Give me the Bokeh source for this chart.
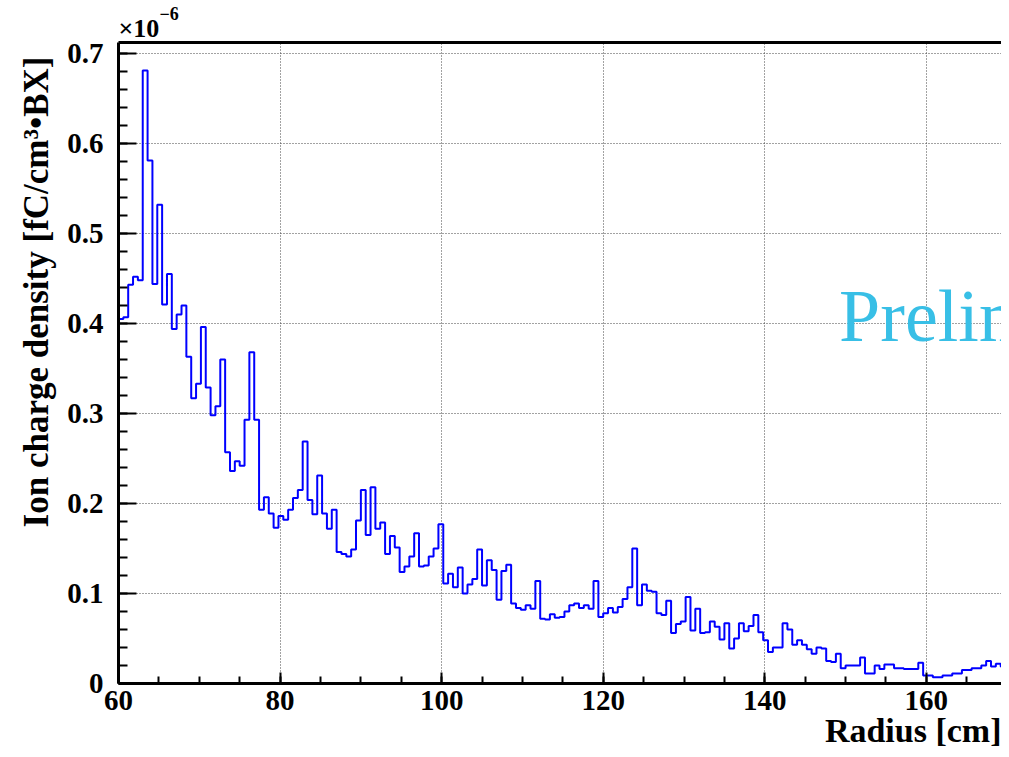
import numpy as np
from bokeh.plotting import figure
from bokeh.models import (Range1d, SingleIntervalTicker, FixedTicker,
                          CustomJSTickFormatter, Label, LinearAxis, Title)
from bokeh.embed import file_html
from bokeh.resources import INLINE

# ---------------- data ----------------
bin_low = 60.0      # cm, lower edge of first bin
bin_width = 0.6     # cm
# ion charge density per bin, in units of 1e-6 fC/cm^3/BX
ion_density = [
    0.405, 0.407, 0.443, 0.452, 0.448, 0.681, 0.581, 0.444, 0.532, 0.421,
    0.455, 0.394, 0.410, 0.420, 0.363, 0.317, 0.333, 0.396, 0.329, 0.298,
    0.308, 0.360, 0.257, 0.236, 0.247, 0.242, 0.293, 0.368, 0.293, 0.193,
    0.207, 0.189, 0.173, 0.186, 0.182, 0.193, 0.206, 0.215, 0.269, 0.204,
    0.188, 0.231, 0.189, 0.172, 0.193, 0.146, 0.144, 0.141, 0.149, 0.181,
    0.215, 0.165, 0.218, 0.172, 0.179, 0.144, 0.164, 0.151, 0.124, 0.130,
    0.141, 0.167, 0.130, 0.131, 0.141, 0.150, 0.177, 0.111, 0.122, 0.107,
    0.129, 0.100, 0.110, 0.116, 0.149, 0.109, 0.137, 0.126, 0.093, 0.125,
    0.132, 0.089, 0.084, 0.082, 0.087, 0.083, 0.114, 0.072, 0.071, 0.077,
    0.073, 0.074, 0.080, 0.087, 0.089, 0.084, 0.087, 0.083, 0.114, 0.074,
    0.078, 0.084, 0.079, 0.085, 0.094, 0.107, 0.150, 0.087, 0.110, 0.103,
    0.102, 0.078, 0.076, 0.092, 0.056, 0.066, 0.069, 0.096, 0.059, 0.083,
    0.056, 0.057, 0.069, 0.063, 0.049, 0.067, 0.039, 0.050, 0.067, 0.058,
    0.064, 0.076, 0.057, 0.048, 0.035, 0.040, 0.040, 0.067, 0.060, 0.043,
    0.048, 0.043, 0.038, 0.033, 0.040, 0.039, 0.025, 0.024, 0.033, 0.017,
    0.020, 0.020, 0.020, 0.029, 0.011, 0.011, 0.020, 0.016, 0.021, 0.021,
    0.017, 0.017, 0.016, 0.016, 0.016, 0.023, 0.009, 0.009, 0.007, 0.007,
    0.009, 0.009, 0.011, 0.011, 0.015, 0.015, 0.017, 0.017, 0.020, 0.025,
    0.019, 0.022, 0.019, 0.019,
]
x_title = "Radius [cm]"
y_title = "Ion charge density [fC/cm\u00b3\u2022BX]"
y_exponent_base = "\u00d710"
y_exponent = "\u22126"
watermark = "Preliminary"

# ---------------- histogram outline ----------------
n = len(ion_density)
edges = bin_low + bin_width * np.arange(n + 1)
xs = [edges[0]]
ys = [0.0]
for i, v in enumerate(ion_density):
    xs += [edges[i], edges[i + 1]]
    ys += [v, v]

FONT = "Liberation Serif"

p = figure(width=1001, height=749,
           x_range=Range1d(60, 169.3), y_range=Range1d(0, 0.7122),
           output_backend="svg", toolbar_location=None,
           min_border_left=118, min_border_right=0,
           min_border_top=42, min_border_bottom=66)
p.outline_line_color = None
p.background_fill_color = "white"
p.border_fill_color = "white"

xticker = SingleIntervalTicker(interval=20, num_minor_ticks=4)
yticker = SingleIntervalTicker(interval=0.1, num_minor_ticks=5)

xa = p.xaxis[0]
xa.ticker = xticker
xa.formatter = CustomJSTickFormatter(code="return tick.toFixed(0);")
ya = p.yaxis[0]
ya.ticker = yticker
ya.formatter = CustomJSTickFormatter(
    code="return Math.abs(tick) < 1e-9 ? '0' : tick.toFixed(1);")

for ax in (xa, ya):
    ax.axis_line_color = "black"
    ax.axis_line_width = 3
    ax.major_tick_line_color = "black"
    ax.minor_tick_line_color = "black"
    ax.major_tick_line_width = 2
    ax.minor_tick_line_width = 2
    ax.major_tick_out = 0
    ax.minor_tick_out = 0
    ax.major_label_text_font = FONT
    ax.major_label_text_font_style = "bold"
    ax.major_label_text_font_size = "29px"
    ax.major_label_text_color = "black"

xa.major_tick_in = 11
xa.minor_tick_in = 7
xa.major_label_standoff = 7
ya.major_tick_in = 18
ya.minor_tick_in = 9
ya.major_label_standoff = 15

# top frame line (no ticks, no labels)
top = LinearAxis(ticker=FixedTicker(ticks=[]), major_tick_in=0, major_tick_out=0,
                 minor_tick_in=0, minor_tick_out=0, major_label_standoff=0,
                 axis_line_color="black", axis_line_width=3)
p.add_layout(top, "above")

for g, t in ((p.xgrid[0], xticker), (p.ygrid[0], yticker)):
    g.ticker = t
    g.grid_line_color = "#444444"
    g.grid_line_dash = "1 2"
    g.grid_line_width = 1

p.line(xs, ys, line_color="#0000ff", line_width=2)

# axis titles and exponent, placed in the side panels
p.add_layout(Title(text=y_title, align="right", offset=14, standoff=18,
                   text_font=FONT, text_font_style="bold",
                   text_font_size="35px", text_color="black"), "left")
p.add_layout(Title(text=x_title, align="right", offset=0, standoff=-5,
                   text_font=FONT, text_font_style="bold",
                   text_font_size="34px", text_line_height=0.8,
                   text_color="black"), "below")
p.add_layout(Title(text=y_exponent_base, align="left", offset=0, standoff=0,
                   text_font=FONT, text_font_style="bold",
                   text_font_size="26px", text_color="black"), "above")
p.add_layout(Title(text=y_exponent, align="left", offset=41, standoff=-17,
                   text_font=FONT, text_font_style="bold",
                   text_font_size="18px", text_color="black"), "above")

p.add_layout(Label(x=149.2, y=0.4085, text=watermark,
                   text_align="left", text_baseline="alphabetic",
                   text_font=FONT, text_font_size="74px",
                   text_color="#38bfe6"))

open("out.html", "w").write(file_html(p, INLINE))
